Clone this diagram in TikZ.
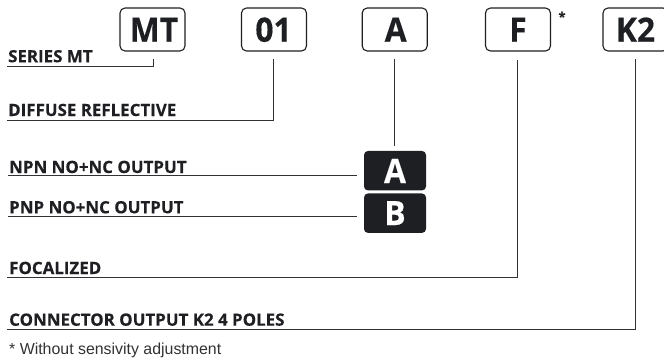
\documentclass[tikz,border=0pt]{standalone}
\usepackage{fontspec}
\setmainfont{Liberation Sans}
\newfontfamily\lblfont[FakeStretch=1.0,FakeBold=0.25]{Open Sans Bold}
\newfontfamily\keyfont[FakeStretch=0.95,FakeBold=0.3]{Open Sans Bold}
\definecolor{ink}{RGB}{30,31,35}
\definecolor{wire}{RGB}{50,50,52}
\tikzset{
  x=1pt,y=-1pt,
  keybox/.style={draw=ink,line width=1.1pt,rounded corners=5pt,fill=white,inner sep=0pt,minimum width=65pt,minimum height=43pt},
  darkbox/.style={fill=ink,rounded corners=4pt,inner sep=0pt,minimum width=62pt,minimum height=39.5pt},
  keytext/.style={anchor=base,inner sep=0pt,text=ink,font=\keyfont\fontsize{33.5}{33}\selectfont},
  darktext/.style={keytext,text=white},
  lbl/.style={anchor=base west,inner sep=0pt,font=\lblfont\fontsize{16.9}{17}\selectfont,text=ink},
  wireline/.style={draw=wire,line width=0.9pt,line cap=butt},
}
\begin{document}
\begin{tikzpicture}
\useasboundingbox (0,0) rectangle (664,361);
% coded boxes
\node[keybox] (mt) at (152.5,29.5) {};
\node[keytext,xshift=1.5pt] (mtt) at (mt.center |- 0,41.7) {MT};
\node[keybox] (zo) at (274,29.5) {};
\node[keytext,xshift=-0.5pt] (zot) at (zo.center |- 0,41.7) {01};
\node[keybox] (a) at (394.7,29.5) {};
\node[keytext,xshift=1pt] (at) at (a.center |- 0,41.7) {A};
\node[keybox] (f) at (518,29.5) {};
\node[keytext] (ft) at (f.center |- 0,41.7) {F};
\node[keybox] (k) at (635.5,29.5) {};
\node[keytext] (kt) at (k.center |- 0,41.7) {K2};
\node[anchor=center,inner sep=0pt,text=ink,font=\lblfont\fontsize{13}{13}\selectfont] (star) at (562,16.5) {*};
% option boxes
\node[darkbox] (da) at (395,170.7) {};
\node[darktext] (dat) at (da.center |- 0,183) {A};
\node[darkbox] (db) at (395,213.2) {};
\node[darktext] (dbt) at (db.center |- 0,225) {B};
% labels
\node[lbl] (l1) at (8,62.3) {SERIES MT};
\node[lbl] (l2) at (8,116) {DIFFUSE REFLECTIVE};
\node[lbl] (l3) at (9,173) {NPN NO+NC OUTPUT};
\node[lbl] (l4) at (9,213.3) {PNP NO+NC OUTPUT};
\node[lbl] (l5) at (9,274) {FOCALIZED};
\node[lbl] (l6) at (9,325.7) {CONNECTOR OUTPUT K2 4 POLES};
\node[anchor=base west,inner sep=0pt,text=wire,font=\fontsize{15.9}{16}\selectfont] (note) at (9,354) {* Without sensivity adjustment};
% connector ends
\coordinate (s1) at (7,66);
\coordinate (e1) at (153.5,59);
\coordinate (s2) at (7,120);
\coordinate (e2) at (273.5,59);
\coordinate (s3) at (8,175.5);
\coordinate (e3) at (357,175.5);
\coordinate (s4) at (8,216.8);
\coordinate (e4) at (357,216.8);
\coordinate (s5) at (7,277.7);
\coordinate (e5) at (517.5,60.5);
\coordinate (s6) at (7,329.7);
\coordinate (e6) at (635,59);
\coordinate (s7) at (394.7,59);
\coordinate (e7) at (394.7,146);
% connectors
\draw[wireline] (s1) -| (e1);
\draw[wireline] (s2) -| (e2);
\draw[wireline] (s3) -- (e3);
\draw[wireline] (s4) -- (e4);
\draw[wireline] (s5) -| (e5);
\draw[wireline] (s6) -| (e6);
\draw[wireline] (s7) -- (e7);
\end{tikzpicture}
\end{document}
